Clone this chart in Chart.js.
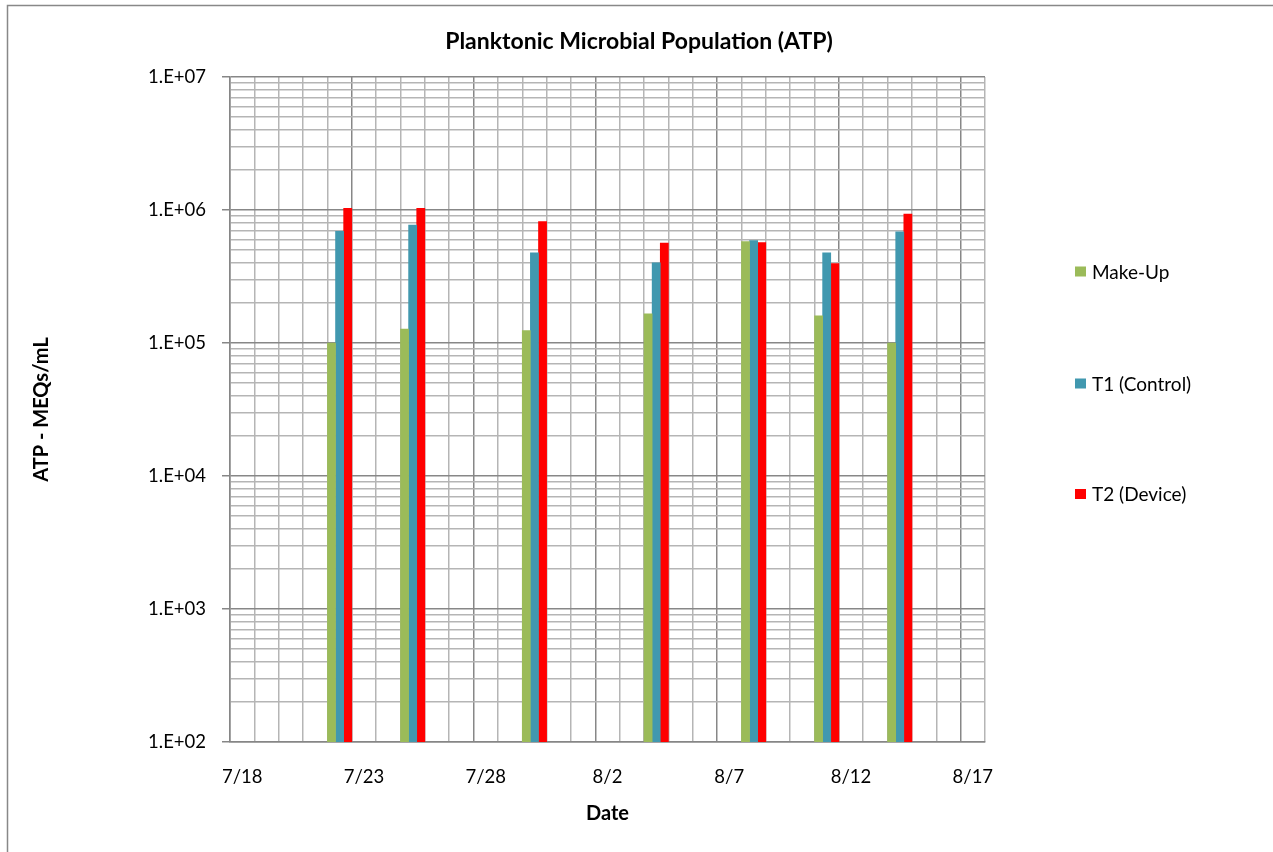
<!DOCTYPE html>
<html>
<head>
<meta charset="utf-8">
<script src="https://cdn.jsdelivr.net/npm/chart.js@4.4.1/dist/chart.umd.min.js"></script>
<style>
  html, body { margin: 0; padding: 0; background: #fff; }
  #wrap { width: 1273px; height: 852px; position: relative; }
</style>
</head>
<body>
<div id="wrap"><canvas id="chart"></canvas></div>
<script>
// x axis runs one slot per day, 7/18 .. 8/17
const dayLabels = [];
for (let i = 0; i < 31; i++) {
  const d = new Date(2013, 6, 18 + i);
  dayLabels.push((d.getMonth() + 1) + "/" + d.getDate());
}

const sampleDates = ["7/22", "7/25", "7/30", "8/4", "8/8", "8/11", "8/14"];
const makeUp = [100000, 127000, 124000, 166000, 580000, 160000, 100000];
const t1Control = [690000, 770000, 477000, 400000, 590000, 477000, 685000];
const t2Device = [1030000, 1030000, 820000, 565000, 570000, 395000, 930000];

const yTickValues = [];
for (let e = 2; e < 7; e++) {
  for (let m = 1; m < 10; m++) yTickValues.push(m * Math.pow(10, e));
}
yTickValues.push(1e7);

const FONT = "Lato, 'Open Sans', sans-serif";
const MINOR = "#b5b5b5";
const MAJOR = "#878787";
const TITLE = "Planktonic Microbial Population (ATP)";

function isDecade(v) {
  const l = Math.log10(v);
  return Math.abs(l - Math.round(l)) < 1e-9;
}

function toPoints(values) {
  return sampleDates.map((d, i) => ({ x: d, y: values[i] }));
}

// frame, title and legend drawn by hand, Excel style
const extras = {
  id: "extras",
  beforeDraw(chart) {
    const c = chart.ctx;
    c.save();
    c.fillStyle = "#fff";
    c.fillRect(0, 0, chart.width, chart.height);
    c.strokeStyle = "#888";
    c.lineWidth = 1.5;
    c.beginPath();
    c.moveTo(7.5, chart.height + 2);
    c.lineTo(7.5, 5.5);
    c.lineTo(chart.width + 2, 5.5);
    c.stroke();
    c.restore();
  },
  afterDraw(chart) {
    const c = chart.ctx;
    c.save();
    c.fillStyle = "#000";
    c.font = "bold 23px " + FONT;
    c.textAlign = "center";
    c.textBaseline = "middle";
    c.fillText(TITLE, 639, 42);

    const rowsY = [271.5, 383.5, 494];
    c.font = "19px " + FONT;
    c.textAlign = "left";
    chart.data.datasets.forEach((ds, i) => {
      c.fillStyle = ds.backgroundColor;
      c.fillRect(1075, rowsY[i] - 5, 11, 10);
      c.fillStyle = "#000";
      c.fillText(ds.label, 1092, rowsY[i] + 1);
    });
    c.restore();
  }
};

const ctx = document.getElementById("chart").getContext("2d");
const chart = new Chart(ctx, {
  type: "bar",
  data: {
    labels: dayLabels,
    datasets: [
      { label: "Make-Up", data: toPoints(makeUp), backgroundColor: "#9bbb59" },
      { label: "T1 (Control)", data: toPoints(t1Control), backgroundColor: "#4198af" },
      { label: "T2 (Device)", data: toPoints(t2Device), backgroundColor: "#ff0000" },
    ],
  },
  options: {
    responsive: true,
    maintainAspectRatio: false,
    animation: false,
    layout: { padding: { left: 26, right: 288, top: 77, bottom: 22 } },
    datasets: { bar: { categoryPercentage: 1, barPercentage: 1, borderWidth: 0 } },
    plugins: {
      legend: { display: false },
      tooltip: { enabled: false },
      title: { display: false },
    },
    scales: {
      x: {
        type: "category",
        offset: true,
        grid: {
          offset: true,
          drawTicks: false,
          lineWidth: 1.5,
          color: (c) => (c.index % 5 === 0 ? MAJOR : MINOR),
        },
        border: { color: "#868686", width: 1.5 },
        ticks: {
          autoSkip: false,
          maxRotation: 0,
          padding: 24,
          color: "#000",
          font: { family: FONT, size: 18.5 },
          callback: (val, idx) => (idx % 5 === 0 ? dayLabels[idx] : ""),
        },
        title: {
          display: true,
          text: "Date",
          color: "#000",
          font: { family: FONT, size: 20, weight: "bold" },
          padding: 4,
        },
        afterFit: (s) => { s.height = 88; },
      },
      y: {
        type: "logarithmic",
        min: 100,
        max: 1e7,
        afterBuildTicks: (s) => {
          s.ticks = yTickValues.map((v) => ({ value: v, major: isDecade(v) }));
        },
        grid: {
          lineWidth: 1.5,
          tickLength: 8,
          color: (c) => (isDecade(c.tick.value) ? MAJOR : MINOR),
          tickColor: (c) => (isDecade(c.tick.value) ? "#868686" : "rgba(0,0,0,0)"),
        },
        border: { color: "#868686", width: 1.5 },
        ticks: {
          autoSkip: false,
          padding: 16,
          color: "#000",
          font: { family: FONT, size: 18.5 },
          callback: (v) => {
            if (!isDecade(v)) return "";
            const e = Math.round(Math.log10(v));
            return "1.E+" + String(e).padStart(2, "0");
          },
        },
        title: {
          display: true,
          text: "ATP - MEQs/mL",
          color: "#000",
          font: { family: FONT, size: 20, weight: "bold" },
          padding: 4,
        },
        afterFit: (s) => { s.width = 204; },
      },
    },
  },
  plugins: [extras],
});
</script>
</body>
</html>
